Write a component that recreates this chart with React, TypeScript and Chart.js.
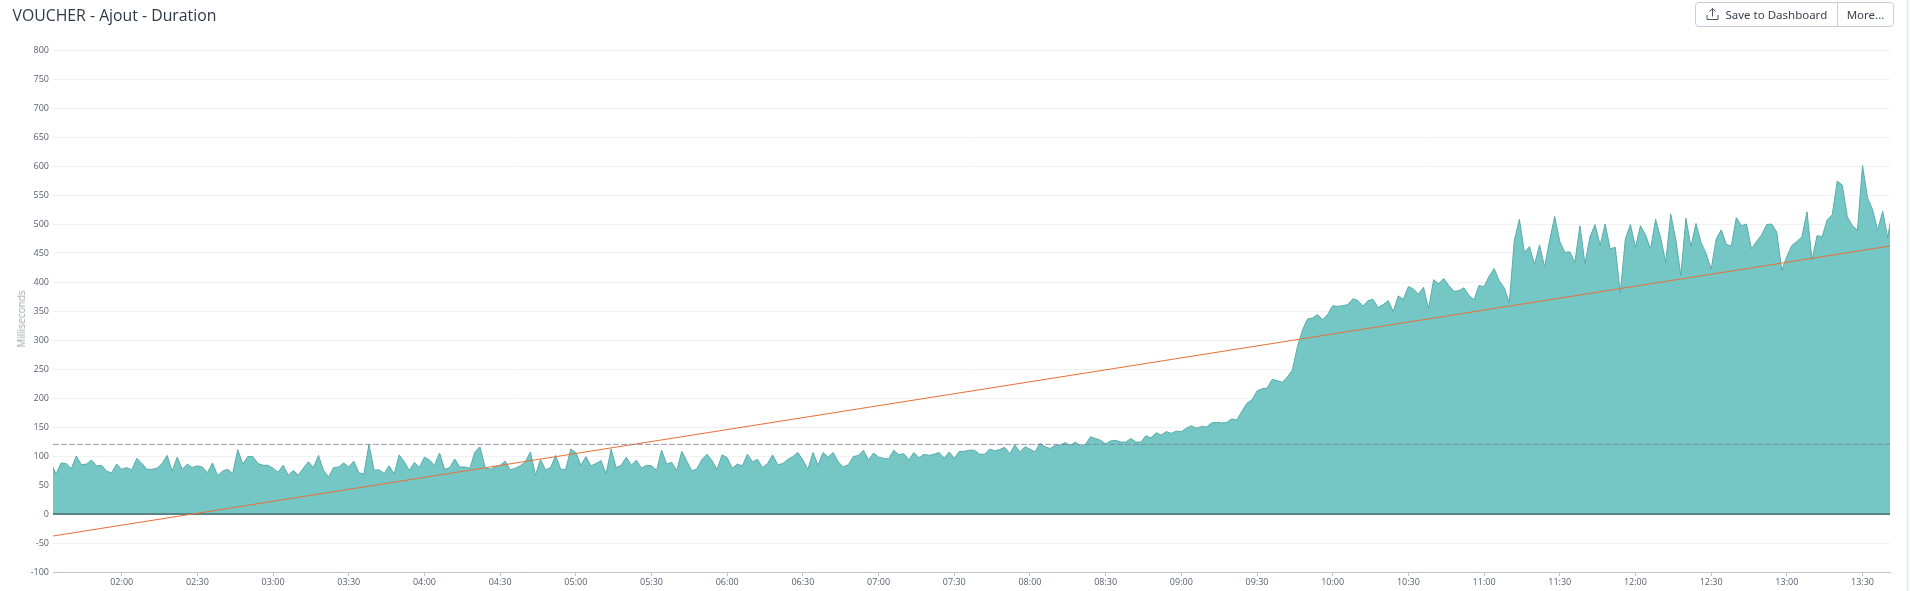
import React, { useEffect, useRef } from "react";
import { Chart, registerables } from "chart.js";

Chart.register(...registerables);

const titleText = "VOUCHER - Ajout - Duration";
const yAxisTitle = "Milliseconds";
const firstSampleMinute = 92;
const sampleStepMinutes = 2;
const axisMinMinute = 92.77;
const axisMaxMinute = 820.9;
const xTickMinutes = [120,150,180,210,240,270,300,330,360,390,420,450,480,510,540,570,600,630,660,690,720,750,780,810];

const durationNight = [87,69,88,87,78,100,85,86,93,83,84,74,71,86,77,80,76,96,87,77,77,79,87,101,74,98,77,86,80,83,81,71,88,66,74,77,70,111,86,99,99,87,84,84,79,72,84,67,75,67,79,90,80,101,75,64,80,81,88,81,91,71,69,120,76,76,70,83,69,102,90,75,89,80,98,93,84,105,77,80,95,81,81,79,107,116,81,77,81,84];
const durationMorning = [91,76,79,83,90,107,67,94,76,80,101,77,77,112,106,84,99,83,87,92,69,112,80,84,98,84,93,79,84,83,75,110,86,89,75,108,91,74,78,94,103,92,77,102,97,79,86,83,103,90,94,80,87,102,85,87,94,99,106,93,77,106,84,106,98,106,90,81,85,99,101,110,93,105,98,96,95,110,102,104,93,106,97,103,101,103,106,96,107,96,108,108,110,110,103,103,112,109,111];
const durationRamp = [115,104,119,107,116,112,107,122,116,113,118,119,123,118,124,117,120,133,130,127,121,126,127,124,124,130,124,124,135,131,140,136,142,139,143,142,148,152,148,151,150,157,158,157,158,164,162,177,191,197,212,216,217,232,230,227,236,248,288,317,336,338,344,335,344,359,358,359,361];
const durationHigh = [371,368,358,368,370,356,361,368,349,376,370,392,388,379,391,354,404,397,406,394,384,385,390,377,369,394,392,410,423,402,390,364];
const durationPeak = [472,508,451,461,430,464,426,472,513,470,451,452,434,497,431,478,499,463,500,457,460,381,474,499,460,497,481,457,508,476,434,517,473,411,510,461,501,468,449,422,474,490,465,462,511,497,500,457,470,481,499,500,486,420,444,463,470,478,521,438,480,478,507,516,574,567,512,497,489,601,545,525,489,522,476,530];
const durationValues = [...durationNight, ...durationMorning, ...durationRamp, ...durationHigh, ...durationPeak];

const trendValues = [-38, 462];
const thresholdValues = [120, 120];
const baselineValues = [0, 0];

function minuteLabel(m: number) {
  const h = Math.floor(m / 60);
  const mm = m % 60;
  return `${String(h).padStart(2, "0")}:${String(mm).padStart(2, "0")}`;
}

const FONT = "'Open Sans', sans-serif";

export default function App() {
  const ref = useRef<HTMLCanvasElement | null>(null);

  useEffect(() => {
    document.body.style.margin = "0";
    const ends = [axisMinMinute, axisMaxMinute];
    const chart = new Chart(ref.current!, {
      type: "line",
      data: {
        datasets: [
          {
            label: "Threshold",
            data: ends.map((x, i) => ({ x, y: thresholdValues[i] })),
            borderColor: "rgba(120,120,150,0.75)",
            borderWidth: 1,
            borderDash: [6, 2],
            pointRadius: 0,
            fill: false,
            order: 1,
          },
          {
            label: "Trend",
            data: ends.map((x, i) => ({ x, y: trendValues[i] })),
            borderColor: "#E8703A",
            borderWidth: 1.1,
            pointRadius: 0,
            fill: false,
            order: 2,
          },
          {
            label: "Baseline",
            data: ends.map((x, i) => ({ x, y: baselineValues[i] })),
            borderColor: "#5B8488",
            borderWidth: 2,
            pointRadius: 0,
            fill: false,
            order: 3,
          },
          {
            label: "Duration",
            data: durationValues.map((y, i) => ({ x: firstSampleMinute + i * sampleStepMinutes, y })),
            borderColor: "#5AABA9",
            backgroundColor: "#74C7C5",
            borderWidth: 1,
            pointRadius: 0,
            tension: 0,
            fill: "origin",
            order: 4,
          },
        ],
      },
      options: {
        animation: false,
        responsive: false,
        maintainAspectRatio: false,
        layout: { padding: { left: 0, right: 20, top: 50, bottom: 0 } },
        plugins: { legend: { display: false }, tooltip: { enabled: false }, title: { display: false } },
        scales: {
          x: {
            type: "linear",
            min: axisMinMinute,
            max: axisMaxMinute,
            afterBuildTicks: (s: any) => {
              s.ticks = xTickMinutes.map((value) => ({ value }));
            },
            afterFit: (s: any) => {
              s.height = 19;
            },
            ticks: {
              autoSkip: false,
              maxRotation: 0,
              padding: 1,
              color: "#5A626E",
              font: { family: FONT, size: 9 },
              callback: (v: any) => minuteLabel(Number(v)),
            },
            grid: { drawOnChartArea: false, drawTicks: true, tickLength: 4, tickColor: "#BFC3CF" },
            border: { color: "#BFC3CF", width: 1 },
          },
          y: {
            type: "linear",
            min: -100,
            max: 800,
            afterFit: (s: any) => {
              s.width = 53;
            },
            ticks: {
              stepSize: 50,
              padding: 4,
              color: "#5A626E",
              font: { family: FONT, size: 9 },
            },
            grid: { color: "#F0F1F3", lineWidth: 1, drawTicks: false },
            border: { display: false },
          },
        },
      },
    });
    return () => chart.destroy();
  }, []);

  return (
    <div style={{ position: "relative", width: 1910, height: 591, overflow: "hidden", background: "#fff", fontFamily: FONT }}>
      <canvas ref={ref} width={1910} height={591} style={{ position: "absolute", left: 0, top: 0, width: 1910, height: 591 }} />
      <div style={{ position: "absolute", left: 12.5, top: 4, fontSize: 15.8, lineHeight: "22px", color: "#2E3A48", whiteSpace: "nowrap" }}>{titleText}</div>
      <div
        style={{
          position: "absolute",
          left: 21,
          top: 318.5,
          transform: "translate(-50%,-50%) rotate(-90deg)",
          fontSize: 10,
          color: "#A0A5AA",
          whiteSpace: "nowrap",
        }}
      >
        {yAxisTitle}
      </div>
      <div
        style={{
          position: "absolute",
          left: 1695,
          top: 2,
          width: 199,
          height: 25,
          boxSizing: "border-box",
          border: "1px solid #C6CCE0",
          borderRadius: 4,
          display: "flex",
          fontFamily: "'Noto Sans', sans-serif",
          fontSize: 11.5,
          color: "#3A4450",
          alignItems: "center",
        }}
      >
        <div style={{ width: 142, height: "100%", boxSizing: "border-box", borderRight: "1px solid #C6CCE0", position: "relative", whiteSpace: "nowrap" }}>
          <svg width="13" height="14" viewBox="0 0 13 14" style={{ position: "absolute", left: 10, top: 4 }} fill="none" stroke="#4A5560" strokeWidth="1">
            <path d="M6.5 9.5V1.5M3.5 4.5l3-3 3 3M1 8v4.5h11V8" />
          </svg>
          <span style={{ position: "absolute", left: 29.5, top: 3, lineHeight: "17px" }}>Save to Dashboard</span>
        </div>
        <div style={{ flex: 1, textAlign: "center", lineHeight: "17px" }}>More...</div>
      </div>
      <div style={{ position: "absolute", left: 1907, top: 0, width: 3, height: 591, background: "#F5F6F7", borderLeft: "1px solid #E4E5E8", boxSizing: "border-box" }} />
    </div>
  );
}
